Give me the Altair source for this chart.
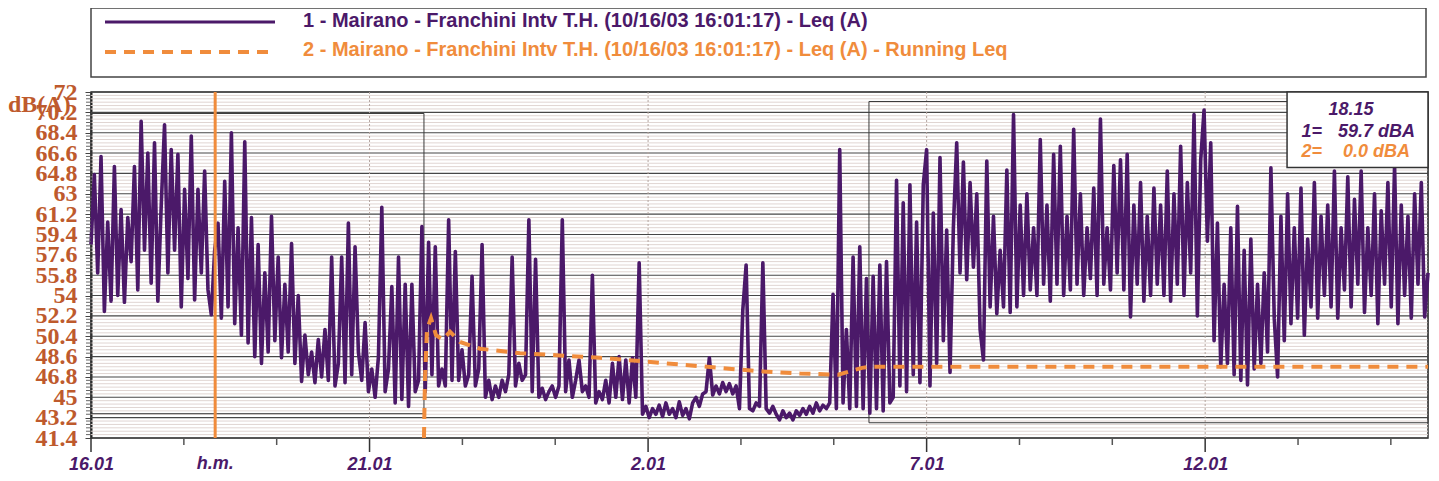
import altair as alt
import pandas as pd

# ---------------- data ----------------
leq_values = [
    58.5, 64.7, 56.0, 66.3, 52.6, 60.5, 53.5, 65.4, 54.0, 61.6,
    53.4, 60.9, 57.0, 65.4, 54.5, 69.4, 58.0, 66.6, 55.1, 67.5,
    53.5, 61.9, 69.1, 56.0, 66.9, 58.0, 66.5, 53.0, 63.4, 55.5,
    68.1, 53.6, 63.4, 56.0, 65.0, 54.5, 52.3, 58.0, 60.4, 52.0,
    64.1, 53.0, 68.4, 51.5, 60.0, 50.5, 67.6, 49.8, 60.9, 48.6,
    58.5, 48.0, 56.0, 49.0, 61.0, 50.0, 57.4, 48.5, 55.0, 49.0,
    58.6, 48.0, 54.0, 46.4, 50.5, 47.0, 49.0, 46.3, 50.1, 46.8,
    51.0, 46.5, 57.4, 46.0, 48.0, 57.4, 46.3, 60.4, 47.0, 58.3,
    49.0, 46.5, 51.6, 45.5, 47.5, 45.0, 48.6, 61.8, 45.5, 47.5,
    54.8, 44.5, 57.4, 44.8, 55.0, 44.2, 55.0, 45.5, 46.5, 60.1,
    45.5, 58.7, 47.0, 58.3, 46.0, 47.5, 46.0, 60.7, 46.5, 57.9,
    46.5, 49.2, 46.0, 47.0, 55.7, 46.0, 47.5, 58.5, 45.0, 46.5,
    44.8, 46.0, 45.0, 46.5, 45.5, 47.0, 57.4, 46.0, 48.0, 46.5,
    47.0, 60.7, 45.5, 57.2, 45.0, 45.8, 44.8, 45.5, 46.0, 45.0,
    46.0, 60.7, 45.5, 48.3, 45.0, 46.5, 48.3, 45.5, 46.0, 45.0,
    55.8, 44.5, 45.5, 44.8, 46.5, 44.5, 48.0, 45.0, 48.6, 44.8,
    48.3, 44.5, 48.5, 45.0, 56.9, 43.5, 44.2, 43.2, 44.0, 43.5,
    44.3, 43.3, 44.5, 43.5, 44.0, 43.2, 44.6, 43.4, 44.0, 43.1,
    44.5, 45.0, 44.2, 45.3, 45.5, 48.5, 45.2, 46.0, 45.3, 46.3,
    45.5, 46.2, 45.3, 46.0, 44.0, 52.7, 56.7, 44.0, 43.8, 44.5,
    44.2, 56.9, 44.0, 43.6, 44.2, 43.5, 43.0, 43.8, 43.2, 43.6,
    43.0, 43.8, 43.4, 44.0, 43.5, 44.2, 43.6, 44.5, 43.8, 44.3,
    44.0, 44.5, 54.1, 44.0, 66.9, 44.5, 51.0, 44.0, 57.4, 44.2,
    58.3, 44.0, 55.5, 43.6, 55.7, 44.0, 56.7, 43.8, 57.0, 44.5,
    45.0, 64.2, 46.0, 62.2, 45.5, 63.8, 47.0, 60.5, 46.3, 63.8,
    66.9, 46.0, 61.3, 48.0, 66.2, 50.0, 59.8, 47.2, 60.0, 67.5,
    56.0, 65.8, 55.4, 64.0, 56.5, 63.0, 51.0, 48.3, 65.9, 53.0,
    61.0, 52.4, 58.0, 53.0, 65.1, 52.5, 70.0, 53.0, 62.0, 54.0,
    63.0, 54.5, 60.0, 54.0, 67.8, 55.0, 62.0, 53.5, 66.5, 55.0,
    67.2, 54.0, 61.0, 54.5, 68.7, 55.0, 63.0, 54.0, 60.0, 55.5,
    63.5, 54.0, 69.6, 55.0, 60.0, 54.5, 65.5, 56.0, 66.0, 54.5,
    66.5, 52.1, 62.0, 55.0, 64.0, 53.5, 61.0, 54.0, 63.5, 55.0,
    62.0, 54.0, 65.0, 53.5, 63.0, 55.0, 67.2, 54.0, 64.0, 56.0,
    70.0, 52.2, 66.0, 70.4, 58.8, 67.5, 50.0, 60.4, 47.7, 55.0,
    48.0, 60.0, 47.0, 61.9, 46.5, 58.0, 46.1, 59.0, 47.5, 55.0,
    48.0, 56.0, 49.0, 65.3, 52.0, 46.8, 61.0, 50.0, 63.0, 51.5,
    60.0, 52.0, 63.5, 50.5, 59.0, 53.0, 64.0, 52.0, 61.0, 54.0,
    62.0, 53.0, 65.0, 52.0, 60.0, 54.5, 64.5, 53.0, 62.5, 55.0,
    65.0, 52.5, 60.0, 54.0, 63.0, 51.5, 61.5, 55.0, 64.0, 53.0,
    65.5, 51.5, 62.0, 54.0, 61.0, 52.0, 63.0, 55.0, 64.0, 52.1,
    56.0,
]
# sampling grid (hours since 16:01:17), one sample every 3.6 min
leq_hours = [24 * i / (len(leq_values) - 1) for i in range(len(leq_values))]

running_hours = [5.977, 5.995, 6.031, 6.103, 6.193, 6.318, 6.444, 6.624, 6.983,
                 7.700, 8.418, 9.136, 9.854, 10.572, 11.290, 12.010, 12.730,
                 13.410, 13.620, 13.840, 13.980, 24.0]
running_values = [41.4, 46.6, 51.0, 52.0, 50.5, 50.1, 50.8, 49.9, 49.3,
                  48.9, 48.7, 48.5, 48.2, 47.9, 47.6, 47.3, 47.1,
                  47.0, 47.3, 47.6, 47.7, 47.7]

cursor_hour = 2.229
cursor_label = "18.15"
cursor_readings = ["59.7 dBA", "0.0 dBA"]

x_major_hours = [0, 5, 10, 15, 20]
x_major_labels = ["16.01", "21.01", "2.01", "7.01", "12.01"]
x_minor_hours = [1.667, 3.333, 6.667, 8.333, 11.667, 13.333, 16.667, 18.333, 21.667, 23.333]

y_major = [41.4, 43.2, 45.0, 46.8, 48.6, 50.4, 52.2, 54.0, 55.8, 57.6,
           59.4, 61.2, 63.0, 64.8, 66.6, 68.4, 70.2, 72.0]
y_minor = [round(41.4 + 0.3 * k, 1) for k in range(1, 102) if k % 6 != 0]

box_t = [0.0, 13.965]
box_t2 = [5.977, 24.0]
box_v = [70.1, 71.16]
box_v2 = [43.55, 42.75]
box_inner_v = [48.3]

legend_names = [
    "1 - Mairano - Franchini Intv T.H. (10/16/03 16:01:17) - Leq (A)",
    "2 - Mairano - Franchini Intv T.H. (10/16/03 16:01:17) - Leq (A) - Running Leq",
]

# ---------------- styles ----------------
PURPLE = "#4B1969"
ORANGE = "#F08C3C"
RUST = "#BE5A2D"
W, H = 1337, 346

XS = alt.Scale(domain=[0, 24], nice=False, zero=False)
YS = alt.Scale(domain=[41.4, 72], nice=False, zero=False)

x_expr = " : ".join(f"datum.value == {h} ? '{l}'" for h, l in zip(x_major_hours, x_major_labels)) + " : ''"

X_AXIS = alt.Axis(values=x_major_hours, labelExpr=x_expr, ticks=False, domain=False, grid=False,
                  labelFont="Liberation Sans", labelFontSize=18, labelFontStyle="italic",
                  labelFontWeight="bold", labelColor=PURPLE, labelPadding=17,
                  labelFlush=False, labelOverlap=False)
Y_AXIS = alt.Axis(values=y_major, labelExpr="format(datum.value, '.3~g')", tickSize=6,
                  tickColor="#444", tickWidth=1, domainColor="#222", domainWidth=2, grid=False,
                  labelFont="Liberation Serif", labelFontSize=24, labelFontWeight="bold",
                  labelColor=RUST, labelPadding=8, labelOverlap=False, labelFlush=False)


def xq():
    return alt.X("t:Q", scale=XS, axis=X_AXIS, title=None)


def yq():
    return alt.Y("v:Q", scale=YS, axis=Y_AXIS, title=None)


leq_df = pd.DataFrame({"t": leq_hours, "v": leq_values})
run_df = pd.DataFrame({"t": running_hours, "v": running_values})

# grid
minor_grid = alt.Chart(pd.DataFrame({"v": y_minor})).mark_rule(color="#e0d5d2", strokeWidth=1).encode(y=yq())
major_grid = alt.Chart(pd.DataFrame({"v": y_major})).mark_rule(color="#474747", strokeWidth=1.1).encode(y=yq())
vert_grid = alt.Chart(pd.DataFrame({"t": x_major_hours[1:]})).mark_rule(
    color="#b3a49f", strokeWidth=1, strokeDash=[2, 2]).encode(x=xq())
y_minor_ticks = alt.Chart(pd.DataFrame({"v": y_minor})).mark_rule(color="#666", strokeWidth=1).encode(
    y=yq(), x=alt.value(-5), x2=alt.value(0))
x_major_ticks = alt.Chart(pd.DataFrame({"t": x_major_hours})).mark_rule(color="#333", strokeWidth=1.5).encode(
    x=xq(), y=alt.value(H), y2=alt.value(H + 14))
x_minor_ticks = alt.Chart(pd.DataFrame({"t": x_minor_hours})).mark_rule(color="#555", strokeWidth=1.5).encode(
    x=xq(), y=alt.value(H), y2=alt.value(H + 7))

boxes = alt.Chart(pd.DataFrame({"t": box_t, "t2": box_t2, "v": box_v, "v2": box_v2})).mark_rect(
    filled=False, stroke="#3a3a3a", strokeWidth=1).encode(x=xq(), x2="t2:Q", y=yq(), y2="v2:Q")
box_inner = alt.Chart(pd.DataFrame({"t": [box_t[1]], "t2": [box_t2[1]], "v": box_inner_v})).mark_rule(
    color="#3a3a3a", strokeWidth=1).encode(x=xq(), x2="t2:Q", y=yq())

leq_line = alt.Chart(leq_df).mark_line(color=PURPLE, strokeWidth=3.6, strokeJoin="round").encode(
    x=xq(), y=yq())
run_line = alt.Chart(run_df).mark_line(color=ORANGE, strokeWidth=4, strokeDash=[11, 8]).encode(
    x=xq(), y=yq())
cursor = alt.Chart(pd.DataFrame({"t": [cursor_hour]})).mark_rule(color=ORANGE, strokeWidth=3).encode(x=xq())

cbox = alt.Chart(pd.DataFrame({"t": [21.47], "t2": [24.0], "v": [72.0], "v2": [65.32]})).mark_rect(
    fill="white", stroke="#333", strokeWidth=1.5).encode(x=xq(), x2="t2:Q", y=yq(), y2="v2:Q")


def txt(s, x, y, color, size, font="Liberation Sans", style="italic", weight="bold", align="left"):
    return alt.Chart(pd.DataFrame({"s": [s]})).mark_text(
        align=align, baseline="middle", font=font, fontSize=size, fontStyle=style,
        fontWeight=weight, color=color).encode(x=alt.value(x), y=alt.value(y), text="s:N")


cursor_texts = [
    txt(cursor_label, 1260, 18, PURPLE, 18, align="center"),
    txt("1=", 1231, 40, PURPLE, 18, align="right"),
    txt(cursor_readings[0], 1324, 40, PURPLE, 18, align="right"),
    txt("2=", 1231, 60, ORANGE, 18, align="right"),
    txt(cursor_readings[1], 1319, 60, ORANGE, 18, align="right"),
]

hm_label = alt.Chart(pd.DataFrame({"t": [cursor_hour], "s": ["h.m."]})).mark_text(
    align="center", baseline="top", font="Liberation Sans", fontSize=18, fontStyle="italic",
    fontWeight="bold", color=PURPLE).encode(x=xq(), y=alt.value(H + 17), text="s:N")

legend_box = alt.Chart(pd.DataFrame({"a": [0]})).mark_rect(
    fill="white", stroke="#444", strokeWidth=1.5).encode(
    x=alt.value(0), x2=alt.value(1335), y=alt.value(-84), y2=alt.value(-15))
legend_l1 = alt.Chart(pd.DataFrame({"a": [0]})).mark_rule(color=PURPLE, strokeWidth=3).encode(
    x=alt.value(14), x2=alt.value(184), y=alt.value(-70))
legend_l2 = alt.Chart(pd.DataFrame({"a": [0]})).mark_rule(color=ORANGE, strokeWidth=4, strokeDash=[11, 8]).encode(
    x=alt.value(14), x2=alt.value(180), y=alt.value(-40))
legend_t1 = txt(legend_names[0], 212, -71, PURPLE, 20, style="normal")
legend_t2 = txt(legend_names[1], 212, -42, ORANGE, 20, style="normal")

ytitle = txt("dB(A)", -83, 13, RUST, 24, font="Liberation Serif", style="normal")

chart = alt.layer(
    minor_grid, major_grid, vert_grid, boxes, box_inner, leq_line, run_line, cursor,
    cbox, *cursor_texts, y_minor_ticks, x_major_ticks, x_minor_ticks, hm_label,
    legend_box, legend_l1, legend_l2, legend_t1, legend_t2, ytitle,
).properties(
    width=W, height=H, autosize="none",
    padding={"left": 83, "top": 84, "right": 3, "bottom": 35},
).configure_view(stroke="#333", strokeWidth=1.5)

chart.save("out.html", embed_options={"renderer": "svg", "actions": False})
